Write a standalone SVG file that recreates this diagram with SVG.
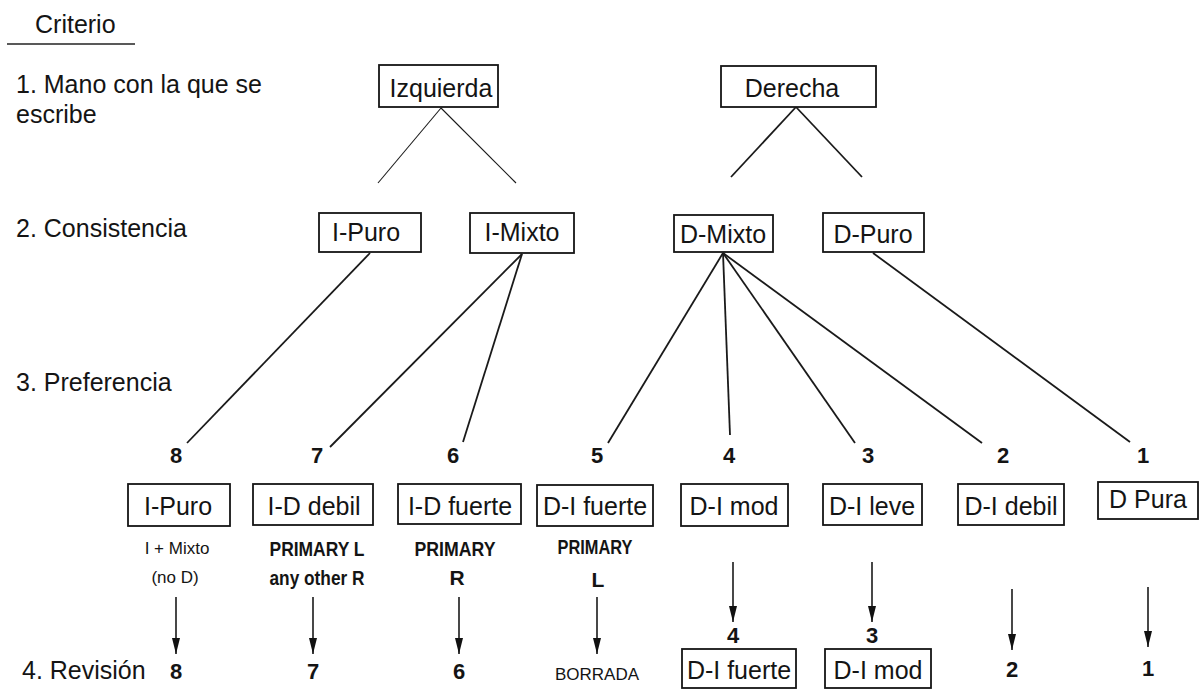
<svg xmlns="http://www.w3.org/2000/svg" width="1200" height="690" viewBox="0 0 1200 690">
<style>
text{font-family:"Liberation Sans",Arial,sans-serif;fill:#141414}
.lbl{font-size:25px}
.bx{font-size:25px;text-anchor:middle}
.num{font-size:22px;font-weight:bold;text-anchor:middle}
.cond{font-size:21px;font-weight:bold;text-anchor:middle}
.sm{font-size:17px;text-anchor:middle}
.box{fill:#fff;stroke:#151515;stroke-width:1.8}
.c line{stroke:#1a1a1a;stroke-width:1.8;fill:none}
.c .thin{stroke-width:1.1}
.c .arr{stroke-width:1.6;marker-end:url(#ah)}
</style>
<defs>
<marker id="ah" viewBox="0 0 16 8" refX="16" refY="4" markerWidth="16" markerHeight="8" markerUnits="userSpaceOnUse" orient="auto">
<path d="M0,0 L16,4 L0,8 Z" fill="#111"/>
</marker>
</defs>
<rect width="1200" height="690" fill="#fff"/>

<g id="criteria">
<text class="lbl" x="35" y="33">Criterio</text>
<line x1="7" y1="44" x2="135" y2="44" stroke="#222" stroke-width="1.5"/>
<text class="lbl" x="16" y="93">1. Mano con la que se</text>
<text class="lbl" x="16" y="123">escribe</text>
<text class="lbl" x="16" y="237">2. Consistencia</text>
<text class="lbl" x="16" y="391">3. Preferencia</text>
<text class="lbl" x="22" y="679">4. Revisión</text>
</g>

<g class="c" id="connectors">
<line class="thin" x1="441" y1="108" x2="378" y2="183"/>
<line class="thin" x1="441" y1="108" x2="516" y2="183"/>
<line x1="796" y1="107" x2="731" y2="177"/>
<line x1="796" y1="107" x2="862" y2="177"/>
<line x1="370" y1="253" x2="187" y2="443"/>
<line x1="522" y1="254" x2="330" y2="447"/>
<line x1="522" y1="254" x2="463" y2="442"/>
<line x1="723" y1="253" x2="608" y2="443"/>
<line x1="723" y1="253" x2="730" y2="435"/>
<line x1="723" y1="253" x2="855" y2="443"/>
<line x1="723" y1="253" x2="982" y2="443"/>
<line x1="873" y1="253" x2="1130" y2="442"/>
<line class="arr" x1="176" y1="597" x2="176" y2="654"/>
<line class="arr" x1="313" y1="597" x2="313" y2="654"/>
<line class="arr" x1="459" y1="597" x2="459" y2="654"/>
<line class="arr" x1="597" y1="597" x2="597" y2="654"/>
<line class="arr" x1="733" y1="562" x2="733" y2="622"/>
<line class="arr" x1="872" y1="562" x2="872" y2="622"/>
<line class="arr" x1="1012" y1="589" x2="1012" y2="650"/>
<line class="arr" x1="1148" y1="587" x2="1148" y2="647"/>
</g>

<g id="izquierda"><rect class="box" x="379" y="65" width="119" height="42"/><text class="bx" x="441" y="97">Izquierda</text></g>
<g id="derecha"><rect class="box" x="721" y="66" width="155" height="41"/><text class="bx" x="792" y="97">Derecha</text></g>

<g id="i-puro"><rect class="box" x="319" y="213" width="102" height="39"/><text class="bx" x="366" y="241">I-Puro</text></g>
<g id="i-mixto"><rect class="box" x="470" y="213" width="104" height="40"/><text class="bx" x="522" y="241">I-Mixto</text></g>
<g id="d-mixto"><rect class="box" x="674" y="215" width="99" height="37"/><text class="bx" x="723" y="243">D-Mixto</text></g>
<g id="d-puro"><rect class="box" x="823" y="213" width="101" height="39"/><text class="bx" x="873" y="243">D-Puro</text></g>

<g id="n8"><text class="num" x="176" y="463">8</text></g>
<g id="n7"><text class="num" x="317" y="463">7</text></g>
<g id="n6"><text class="num" x="453" y="463">6</text></g>
<g id="n5"><text class="num" x="597" y="463">5</text></g>
<g id="n4"><text class="num" x="729" y="463">4</text></g>
<g id="n3"><text class="num" x="868" y="463">3</text></g>
<g id="n2"><text class="num" x="1003" y="463">2</text></g>
<g id="n1"><text class="num" x="1143" y="463">1</text></g>

<g id="b-i-puro"><rect class="box" x="128" y="484" width="102" height="42"/><text class="bx" x="178" y="515">I-Puro</text>
<text class="sm" x="177" y="554">I + Mixto</text><text class="sm" x="175" y="583">(no D)</text></g>
<g id="b-id-debil"><rect class="box" x="253" y="484" width="120" height="41"/><text class="bx" x="314" y="515">I-D debil</text>
<text class="cond" x="317" y="556" textLength="95" lengthAdjust="spacingAndGlyphs">PRIMARY L</text>
<text class="cond" x="317" y="585" textLength="95" lengthAdjust="spacingAndGlyphs">any other R</text></g>
<g id="b-id-fuerte"><rect class="box" x="398" y="484" width="123" height="40"/><text class="bx" x="460" y="515">I-D fuerte</text>
<text class="cond" x="455" y="556" textLength="81" lengthAdjust="spacingAndGlyphs">PRIMARY</text>
<text class="cond" x="457" y="585">R</text></g>
<g id="b-di-fuerte"><rect class="box" x="537" y="485" width="116" height="41"/><text class="bx" x="595" y="515">D-I fuerte</text>
<text class="cond" x="595" y="554" textLength="75" lengthAdjust="spacingAndGlyphs">PRIMARY</text>
<text class="cond" x="598" y="587">L</text></g>
<g id="b-di-mod"><rect class="box" x="681" y="484" width="107" height="42"/><text class="bx" x="734" y="515">D-I mod</text></g>
<g id="b-di-leve"><rect class="box" x="823" y="484" width="99" height="41"/><text class="bx" x="872" y="515">D-I leve</text></g>
<g id="b-di-debil"><rect class="box" x="958" y="484" width="106" height="41"/><text class="bx" x="1011" y="515">D-I debil</text></g>
<g id="b-d-pura"><rect class="box" x="1098" y="482" width="100" height="37"/><text class="bx" x="1148" y="508">D Pura</text></g>

<g id="r8"><text class="num" x="176" y="679">8</text></g>
<g id="r7"><text class="num" x="313" y="679">7</text></g>
<g id="r6"><text class="num" x="459" y="679">6</text></g>
<g id="r-borrada"><text class="sm" x="597" y="680">BORRADA</text></g>
<g id="r4"><text class="num" x="733" y="643">4</text><rect class="box" x="682" y="649" width="114" height="39"/><text class="bx" x="739" y="679">D-I fuerte</text></g>
<g id="r3"><text class="num" x="872" y="643">3</text><rect class="box" x="825" y="649" width="106" height="39"/><text class="bx" x="878" y="679">D-I mod</text></g>
<g id="r2"><text class="num" x="1012" y="677">2</text></g>
<g id="r1"><text class="num" x="1148" y="676">1</text></g>
</svg>
